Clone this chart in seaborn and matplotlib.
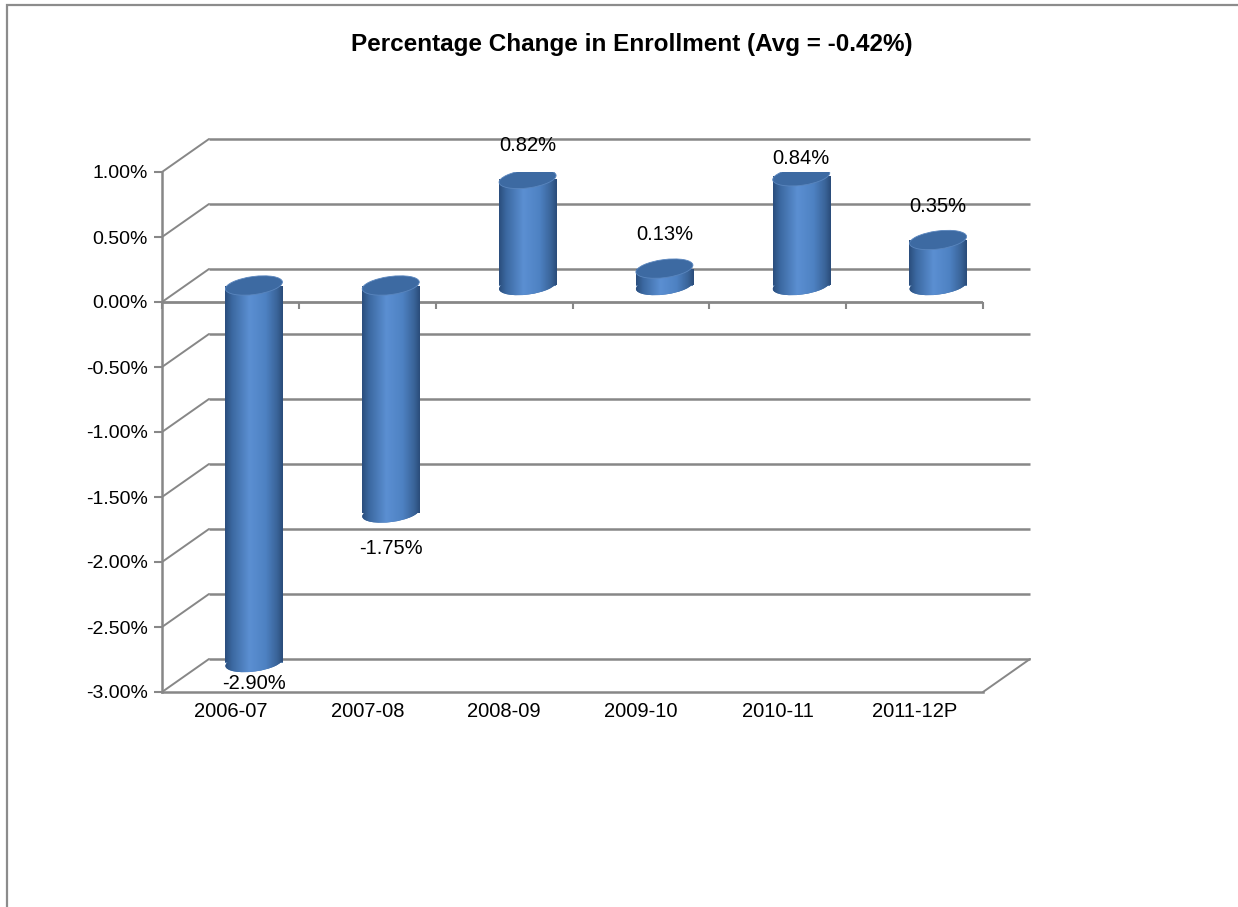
import numpy as np
import pandas as pd
import matplotlib
matplotlib.use("Agg")
import matplotlib.pyplot as plt
import matplotlib.transforms as mtransforms
from matplotlib.patches import Ellipse, Rectangle
from matplotlib.colors import LinearSegmentedColormap
import seaborn as sns

years = ["2006-07", "2007-08", "2008-09", "2009-10", "2010-11", "2011-12P"]
pct_change = [-2.90, -1.75, 0.82, 0.13, 0.84, 0.35]
y_ticks = [-3.0, -2.5, -2.0, -1.5, -1.0, -0.5, 0.0, 0.5, 1.0]
title = "Percentage Change in Enrollment (Avg = -0.42%)"

# distance of the data labels from the bar end, in px (excel put them a bit unevenly)
label_off = [-21, -35, 33, 34, 18, 33]

sns.set_style("white")
plt.rcParams["font.family"] = ["Liberation Sans", "DejaVu Sans"]
plt.rcParams["text.color"] = "black"

W, H, DPI = 1238, 907, 100
fig = plt.figure(figsize=(W / DPI, H / DPI), dpi=DPI)
left, right, top, bottom = 162, 983, 172, 692
ax = fig.add_axes([left / W, 1 - bottom / H, (right - left) / W, (bottom - top) / H])

df = pd.DataFrame({"year": years, "change": pct_change})
sns.barplot(data=df, x="year", y="change", width=0.42, color="#4A7EBB",
            linewidth=0, ax=ax, zorder=3)

# fake 3d: back wall is shifted by `depth` px, bars sit half way
px_x = (right - left) / len(years)
px_y = (bottom - top) / (y_ticks[-1] - y_ticks[0])
depth = (47, 33)
DX, DY = depth[0] / px_x, depth[1] / px_y
grid_c = "#878787"

back_tr = ax.transData + mtransforms.ScaledTranslation(depth[0] / DPI, depth[1] / DPI, fig.dpi_scale_trans)
mid_tr = ax.transData + mtransforms.ScaledTranslation(depth[0] / 2 / DPI, depth[1] / 2 / DPI, fig.dpi_scale_trans)

x0, x1 = -0.5, len(years) - 0.5
ax.hlines(y_ticks, x0, x1, transform=back_tr, color=grid_c, lw=1.8, zorder=1, clip_on=False)
for yv in y_ticks:
    ax.plot([x0, x0 + DX], [yv, yv + DY], color=grid_c, lw=1.4, zorder=1, clip_on=False)
ax.plot([x1, x1 + DX], [y_ticks[0], y_ticks[0] + DY], color=grid_c, lw=1.4, zorder=1, clip_on=False)

# category axis sits on 0
ax.axhline(0, color=grid_c, lw=2, zorder=2)
ax.vlines(np.arange(len(years) + 1) - 0.5, -7 / px_y, 0, color=grid_c, lw=1.5,
          zorder=2, clip_on=False)

# cylinders
cmap = LinearSegmentedColormap.from_list("cyl", [
    (0, "#2A4D7C"), (0.12, "#3B68A0"), (0.42, "#5B8FD2"),
    (0.7, "#4E82C3"), (0.9, "#3A6499"), (1, "#2A4C79")])
grad = np.linspace(0, 1, 256)[None, :]
cap_h = 18 / DPI
tilt = 7.5

for p, v, off in zip(ax.patches, pct_change, label_off):
    p.set_transform(mid_tr)
    xb, wb = p.get_x(), p.get_width()
    lo, hi = min(0, v), max(0, v)
    cx = xb + wb / 2
    ell_w = wb * px_x / DPI

    bot = Ellipse((0, 0), ell_w, cap_h, angle=tilt, fc="#3F6FAA", ec="none", zorder=3,
                  transform=fig.dpi_scale_trans + mtransforms.ScaledTranslation(cx, lo, mid_tr))
    ax.add_patch(bot)
    for clip in (p, bot):
        im = ax.imshow(grad, cmap=cmap, extent=[xb, xb + wb, lo - 0.3, hi + 0.3],
                       transform=mid_tr, aspect="auto", zorder=3.5, interpolation="bilinear")
        im.set_clip_path(clip)

    cap = Ellipse((0, 0), ell_w, cap_h, angle=tilt, fc="#3D6AA2", ec="#5A86BE", lw=0.6, zorder=4,
                  transform=fig.dpi_scale_trans + mtransforms.ScaledTranslation(cx, hi, mid_tr))
    ax.add_patch(cap)

    ax.annotate(f"{v:.2f}%", xy=(cx, v), xycoords=mid_tr, xytext=(0, off * 0.72),
                textcoords="offset points", ha="center", va="center", fontsize=14.5,
                color="black", zorder=5)

ax.set_xlim(x0, x1)
ax.set_ylim(y_ticks[0], y_ticks[-1])
ax.set_yticks(y_ticks)
ax.set_yticklabels([f"{v:.2f}%" for v in y_ticks])
ax.set_xlabel("")
ax.set_ylabel("")
ax.tick_params(axis="y", left=True, length=6, width=1.5, color=grid_c, labelsize=14,
               labelcolor="black", pad=4)
ax.tick_params(axis="x", length=0, labelsize=14.5, labelcolor="black", pad=7)
sns.despine(ax=ax)
for s in ("left", "bottom"):
    ax.spines[s].set_color(grid_c)
    ax.spines[s].set_linewidth(1.8)
ax.set_facecolor("none")

fig.text(632 / W, 1 - 45 / H, title, ha="center", va="center", fontsize=17.5,
         fontweight="bold", color="black")

# chart area border (only top and left show in the crop)
fig.add_artist(Rectangle((7 / W, -0.1), 1.2, 1.1 - 5 / H, transform=fig.transFigure,
                         fill=False, ec="#8C8C8C", lw=1.6))

fig.savefig("out.png", dpi=DPI)
